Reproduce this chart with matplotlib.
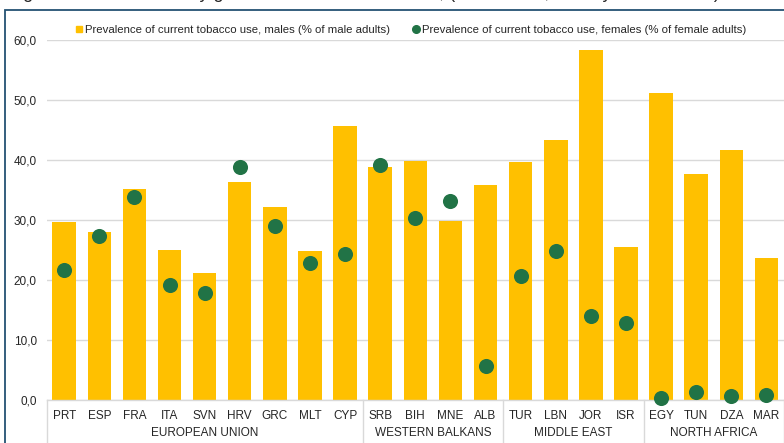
"""
Tobacco use by gender, males (bars) vs females (dots), grouped by region
"""

import matplotlib
matplotlib.use("Agg")
import matplotlib.pyplot as plt
from matplotlib.lines import Line2D
from matplotlib.patches import Rectangle
import numpy as np

plt.rcParams["font.family"] = ["Liberation Sans", "DejaVu Sans"]

# ===================== data =====================
countries = ["PRT", "ESP", "FRA", "ITA", "SVN", "HRV", "GRC", "MLT", "CYP",
             "SRB", "BIH", "MNE", "ALB",
             "TUR", "LBN", "JOR", "ISR",
             "EGY", "TUN", "DZA", "MAR"]
males = [29.7, 28.0, 35.2, 25.0, 21.1, 36.3, 32.2, 24.8, 45.7,
         38.9, 39.9, 29.9, 35.8,
         39.7, 43.3, 58.4, 25.5,
         51.2, 37.6, 41.6, 23.6]
females = [21.7, 27.4, 33.9, 19.1, 17.9, 38.9, 29.0, 22.9, 24.3,
           39.2, 30.4, 33.1, 5.6,
           20.6, 24.9, 14.0, 12.8,
           0.3, 1.3, 0.6, 0.8]
groups = ["EUROPEAN UNION", "WESTERN BALKANS", "MIDDLE EAST", "NORTH AFRICA"]
group_sizes = [9, 4, 4, 4]
yticks = [0, 10, 20, 30, 40, 50, 60]

label_m = "Prevalence of current tobacco use, males (% of male adults)"
label_f = "Prevalence of current tobacco use, females (% of female adults)"

BAR_COLOR = "#FFC000"
DOT_COLOR = "#217346"
GRID_COLOR = "#D9D9D9"
TEXT_COLOR = "#262626"

W, H = 784, 443

# ===================== figure =====================
fig = plt.figure(figsize=(W / 100, H / 100), dpi=100)
ax = fig.add_axes([46.6 / W, 43 / H, 1 - 46.6 / W, 360 / H])

x = np.arange(len(countries))
ax.bar(x, males, width=0.67, color=BAR_COLOR, zorder=2)
ax.scatter(x, females, s=118, color=DOT_COLOR, zorder=3, clip_on=False,
           linewidths=0)

ax.set_xlim(-0.5, len(countries) - 0.5)
ax.set_ylim(0, 60)
ax.set_yticks(yticks, [f"{v:.1f}".replace(".", ",") for v in yticks])
ax.set_xticks(x, countries)
ax.tick_params(axis="y", length=0, pad=7, labelsize=8.5, labelcolor=TEXT_COLOR)
ax.tick_params(axis="x", length=0, pad=7, labelsize=8.5, labelcolor=TEXT_COLOR)

ax.grid(axis="y", color=GRID_COLOR, linewidth=1, zorder=0)
ax.set_axisbelow(True)
for side in ["top", "right", "left"]:
    ax.spines[side].set_visible(False)
ax.spines["bottom"].set_color(GRID_COLOR)
ax.spines["bottom"].set_linewidth(1)

# region labels and separators under the country labels
trans = ax.get_xaxis_transform()
start = 0
ax.plot([-0.5, -0.5], [0, -43 / 360], transform=trans, color=GRID_COLOR,
        lw=1, clip_on=False)
for name, n in zip(groups, group_sizes):
    end = start + n
    ax.text((start + end - 1) / 2, -33.5 / 360, name, transform=trans,
            ha="center", va="center", fontsize=8.5, color=TEXT_COLOR)
    ax.plot([end - 0.5, end - 0.5], [0, -43 / 360], transform=trans,
            color=GRID_COLOR, lw=1, clip_on=False)
    start = end

# legend
handles = [
    Line2D([], [], linestyle="none", marker="s", markersize=5,
           color=BAR_COLOR, label=label_m),
    Line2D([], [], linestyle="none", marker="o", markersize=5.5,
           color=DOT_COLOR, label=label_f),
]
fig.legend(handles=handles, loc="center left",
           bbox_to_anchor=(76 / W, 1 - 30 / H), ncol=2, frameon=False,
           fontsize=8.2, handlelength=0.6, handletextpad=0.2,
           columnspacing=2.0, labelcolor=TEXT_COLOR, borderpad=0,
           borderaxespad=0)

# outer frame and title line (cut at the top edge)
fig.add_artist(Rectangle((5 / W, -0.2), 1.2, 1.2 - 9.5 / H,
                         transform=fig.transFigure, fill=False,
                         edgecolor="#245273", linewidth=1.3))
fig.text(8 / W, 1 + 2.5 / H,
         "Figure 7: Tobacco use by gender in selected countries, (% of adults, latest year available)",
         ha="left", va="baseline", fontsize=13, color=TEXT_COLOR)

fig.savefig("out.png", dpi=100)
